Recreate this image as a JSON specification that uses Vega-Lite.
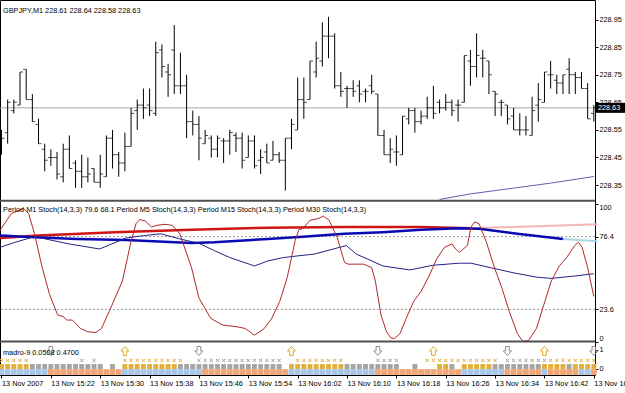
{
"$schema": "https://vega.github.io/schema/vega-lite/v6.json",
"width": 595, "height": 375,
"autosize": {"type": "none"},
"padding": {"left": 0, "top": 0, "right": 30, "bottom": 18},
"background": "white",
"config": {"view": {"stroke": "#000", "strokeWidth": 1}, "font": "Liberation Sans", "text": {"font": "Liberation Sans"}},
"datasets": {
"bars": [
{"i":0,"o":228.53,"h":228.55,"l":228.46,"c":228.52},{"i":1,"o":228.54,"h":228.66,"l":228.50,"c":228.65},{"i":2,"o":228.62,"h":228.66,"l":228.61,"c":228.65},{"i":3,"o":228.64,"h":228.76,"l":228.64,"c":228.76},{"i":4,"o":228.77,"h":228.77,"l":228.66,"c":228.66},{"i":5,"o":228.66,"h":228.68,"l":228.58,"c":228.58},{"i":6,"o":228.57,"h":228.59,"l":228.50,"c":228.50},{"i":7,"o":228.48,"h":228.50,"l":228.40,"c":228.44},{"i":8,"o":228.45,"h":228.48,"l":228.42,"c":228.45},{"i":9,"o":228.45,"h":228.47,"l":228.37,"c":228.39},
{"i":10,"o":228.38,"h":228.50,"l":228.36,"c":228.48},{"i":11,"o":228.48,"h":228.53,"l":228.41,"c":228.41},{"i":12,"o":228.43,"h":228.44,"l":228.34,"c":228.40},{"i":13,"o":228.40,"h":228.46,"l":228.34,"c":228.38},{"i":14,"o":228.38,"h":228.45,"l":228.36,"c":228.39},{"i":15,"o":228.41,"h":228.41,"l":228.36,"c":228.36},{"i":16,"o":228.36,"h":228.46,"l":228.34,"c":228.39},{"i":17,"o":228.38,"h":228.53,"l":228.38,"c":228.52},{"i":18,"o":228.52,"h":228.55,"l":228.41,"c":228.46},{"i":19,"o":228.46,"h":228.47,"l":228.38,"c":228.43},
{"i":20,"o":228.43,"h":228.54,"l":228.40,"c":228.49},{"i":21,"o":228.49,"h":228.63,"l":228.49,"c":228.61},{"i":22,"o":228.62,"h":228.66,"l":228.55,"c":228.64},{"i":23,"o":228.64,"h":228.70,"l":228.59,"c":228.63},{"i":24,"o":228.64,"h":228.70,"l":228.60,"c":228.62},{"i":25,"o":228.61,"h":228.87,"l":228.60,"c":228.83},{"i":26,"o":228.84,"h":228.86,"l":228.74,"c":228.78},{"i":27,"o":228.76,"h":228.79,"l":228.67,"c":228.75},{"i":28,"o":228.84,"h":228.93,"l":228.68,"c":228.71},{"i":29,"o":228.71,"h":228.83,"l":228.68,"c":228.71},
{"i":30,"o":228.71,"h":228.75,"l":228.52,"c":228.58},{"i":31,"o":228.58,"h":228.62,"l":228.53,"c":228.57},{"i":32,"o":228.57,"h":228.60,"l":228.44,"c":228.52},{"i":33,"o":228.50,"h":228.55,"l":228.50,"c":228.53},{"i":34,"o":228.52,"h":228.53,"l":228.45,"c":228.48},{"i":35,"o":228.48,"h":228.53,"l":228.45,"c":228.52},{"i":36,"o":228.51,"h":228.52,"l":228.43,"c":228.51},{"i":37,"o":228.51,"h":228.55,"l":228.46,"c":228.54},{"i":38,"o":228.53,"h":228.54,"l":228.47,"c":228.52},{"i":39,"o":228.52,"h":228.54,"l":228.41,"c":228.44},
{"i":40,"o":228.45,"h":228.53,"l":228.45,"c":228.51},{"i":41,"o":228.51,"h":228.53,"l":228.41,"c":228.42},{"i":42,"o":228.44,"h":228.48,"l":228.39,"c":228.45},{"i":43,"o":228.47,"h":228.50,"l":228.43,"c":228.43},{"i":44,"o":228.44,"h":228.51,"l":228.44,"c":228.46},{"i":45,"o":228.46,"h":228.47,"l":228.43,"c":228.44},{"i":46,"o":228.44,"h":228.52,"l":228.33,"c":228.52},{"i":47,"o":228.52,"h":228.59,"l":228.48,"c":228.57},{"i":48,"o":228.55,"h":228.74,"l":228.55,"c":228.66},{"i":49,"o":228.66,"h":228.74,"l":228.59,"c":228.65},
{"i":50,"o":228.66,"h":228.80,"l":228.66,"c":228.80},{"i":51,"o":228.76,"h":228.87,"l":228.74,"c":228.81},{"i":52,"o":228.80,"h":228.94,"l":228.78,"c":228.89},{"i":53,"o":228.89,"h":228.96,"l":228.81,"c":228.89},{"i":54,"o":228.89,"h":228.90,"l":228.70,"c":228.71},{"i":55,"o":228.71,"h":228.76,"l":228.67,"c":228.69},{"i":56,"o":228.70,"h":228.71,"l":228.63,"c":228.70},{"i":57,"o":228.70,"h":228.73,"l":228.67,"c":228.69},{"i":58,"o":228.71,"h":228.73,"l":228.65,"c":228.68},{"i":59,"o":228.69,"h":228.70,"l":228.65,"c":228.69},
{"i":60,"o":228.71,"h":228.75,"l":228.68,"c":228.69},{"i":61,"o":228.68,"h":228.68,"l":228.53,"c":228.53},{"i":62,"o":228.53,"h":228.55,"l":228.46,"c":228.46},{"i":63,"o":228.46,"h":228.52,"l":228.43,"c":228.48},{"i":64,"o":228.47,"h":228.53,"l":228.42,"c":228.47},{"i":65,"o":228.46,"h":228.60,"l":228.46,"c":228.60},{"i":66,"o":228.59,"h":228.63,"l":228.57,"c":228.62},{"i":67,"o":228.62,"h":228.63,"l":228.54,"c":228.58},{"i":68,"o":228.58,"h":228.62,"l":228.57,"c":228.60},{"i":69,"o":228.60,"h":228.67,"l":228.59,"c":228.63},
{"i":70,"o":228.63,"h":228.71,"l":228.59,"c":228.61},{"i":71,"o":228.65,"h":228.66,"l":228.61,"c":228.63},{"i":72,"o":228.63,"h":228.68,"l":228.62,"c":228.65},{"i":73,"o":228.65,"h":228.66,"l":228.60,"c":228.62},{"i":74,"o":228.64,"h":228.66,"l":228.58,"c":228.64},{"i":75,"o":228.65,"h":228.82,"l":228.65,"c":228.82},{"i":76,"o":228.80,"h":228.84,"l":228.71,"c":228.78},{"i":77,"o":228.78,"h":228.90,"l":228.74,"c":228.82},{"i":78,"o":228.81,"h":228.84,"l":228.74,"c":228.81},{"i":79,"o":228.80,"h":228.80,"l":228.68,"c":228.75},
{"i":80,"o":228.69,"h":228.69,"l":228.60,"c":228.68},{"i":81,"o":228.65,"h":228.66,"l":228.60,"c":228.65},{"i":82,"o":228.64,"h":228.64,"l":228.57,"c":228.59},{"i":83,"o":228.60,"h":228.63,"l":228.55,"c":228.55},{"i":84,"o":228.55,"h":228.61,"l":228.53,"c":228.55},{"i":85,"o":228.55,"h":228.60,"l":228.53,"c":228.55},{"i":86,"o":228.53,"h":228.67,"l":228.53,"c":228.62},{"i":87,"o":228.64,"h":228.72,"l":228.58,"c":228.66},{"i":88,"o":228.65,"h":228.76,"l":228.65,"c":228.76},{"i":89,"o":228.75,"h":228.80,"l":228.70,"c":228.75},
{"i":90,"o":228.73,"h":228.75,"l":228.68,"c":228.72},{"i":91,"o":228.72,"h":228.75,"l":228.68,"c":228.75},{"i":92,"o":228.77,"h":228.81,"l":228.68,"c":228.75},{"i":93,"o":228.75,"h":228.76,"l":228.68,"c":228.74},{"i":94,"o":228.74,"h":228.76,"l":228.70,"c":228.70},{"i":95,"o":228.70,"h":228.72,"l":228.59,"c":228.59},{"i":96,"o":228.61,"h":228.64,"l":228.58,"c":228.63}
],
"ma": [{"i":71,"p":228.298},{"i":76,"p":228.318},{"i":81,"p":228.333},{"i":89,"p":228.357},{"i":96,"p":228.381}],
"bid": [{"name":"Bid","price":228.63}],
"stoch": [
{"s":"m1","i":-0.24,"v":80.9},{"s":"m1","i":1.6,"v":93.1},{"s":"m1","i":3.6,"v":96.7},{"s":"m1","i":4.4,"v":93.1},{"s":"m1","i":5.35,"v":78.4},{"s":"m1","i":6.6,"v":53.9},{"s":"m1","i":7.8,"v":34.3},{"s":"m1","i":9.1,"v":19.6},{"s":"m1","i":10,"v":18.4},{"s":"m1","i":10.6,"v":15.9},{"s":"m1","i":11.5,"v":15.9},{"s":"m1","i":12.8,"v":9.8},{"s":"m1","i":14,"v":7.4},{"s":"m1","i":15.3,"v":6.9},{"s":"m1","i":16.2,"v":9.8},{"s":"m1","i":17.7,"v":24.6},{"s":"m1","i":19.6,"v":44.2},{"s":"m1","i":20.9,"v":71},{"s":"m1","i":21.8,"v":85.7},{"s":"m1","i":22.4,"v":88.7},{"s":"m1","i":23.3,"v":87.7},{"s":"m1","i":24.3,"v":83.3},{"s":"m1","i":25.2,"v":84.5},{"s":"m1","i":26.5,"v":85.3},{"s":"m1","i":27.7,"v":84.5},{"s":"m1","i":28.9,"v":78.4},{"s":"m1","i":30.8,"v":53.9},{"s":"m1","i":32,"v":31.9},{"s":"m1","i":33.9,"v":17.2},{"s":"m1","i":35.8,"v":12.3},{"s":"m1","i":38.2,"v":11},{"s":"m1","i":39.5,"v":9.8},{"s":"m1","i":41,"v":4.9},{"s":"m1","i":42.6,"v":9.8},{"s":"m1","i":43.8,"v":17.2},{"s":"m1","i":45.1,"v":29.4},{"s":"m1","i":46.3,"v":46.6},{"s":"m1","i":47.6,"v":73.5},{"s":"m1","i":48.2,"v":81.4},{"s":"m1","i":48.8,"v":82.1},{"s":"m1","i":50,"v":88.2},{"s":"m1","i":51.3,"v":89.4},{"s":"m1","i":52.2,"v":91.2},{"s":"m1","i":53.1,"v":88.2},{"s":"m1","i":54.4,"v":75.9},{"s":"m1","i":55.6,"v":57.6},{"s":"m1","i":56.2,"v":56.4},{"s":"m1","i":57.5,"v":56.4},{"s":"m1","i":58.7,"v":56.4},{"s":"m1","i":60,"v":53.9},{"s":"m1","i":60.6,"v":44.1},{"s":"m1","i":61.5,"v":19.6},{"s":"m1","i":62.4,"v":7.4},{"s":"m1","i":63.1,"v":3},{"s":"m1","i":63.7,"v":2.5},{"s":"m1","i":64.6,"v":6.2},{"s":"m1","i":65.6,"v":17.2},{"s":"m1","i":66.8,"v":29.4},{"s":"m1","i":68,"v":36.7},{"s":"m1","i":69.3,"v":47.8},{"s":"m1","i":70.5,"v":60},{"s":"m1","i":71.8,"v":68.6},{"s":"m1","i":73,"v":71.1},{"s":"m1","i":73.6,"v":67.4},{"s":"m1","i":74.2,"v":64.9},{"s":"m1","i":75.5,"v":69.9},{"s":"m1","i":76.1,"v":83.3},{"s":"m1","i":76.7,"v":87},{"s":"m1","i":77.4,"v":85.7},{"s":"m1","i":78.6,"v":72.3},{"s":"m1","i":79.8,"v":55.1},{"s":"m1","i":81.1,"v":39.2},{"s":"m1","i":82.3,"v":22.1},{"s":"m1","i":83.6,"v":6.2},{"s":"m1","i":84.5,"v":0.5},{"s":"m1","i":85.4,"v":1},{"s":"m1","i":86.7,"v":9.8},{"s":"m1","i":87.9,"v":27},{"s":"m1","i":89.1,"v":44.1},{"s":"m1","i":90.4,"v":55.1},{"s":"m1","i":91.6,"v":61.2},{"s":"m1","i":92.9,"v":69.9},{"s":"m1","i":93.5,"v":72.3},{"s":"m1","i":94.1,"v":68.6},{"s":"m1","i":95,"v":53.9},{"s":"m1","i":96,"v":33},
{"s":"m5","i":-0.24,"v":68.6},{"s":"m5","i":2.24,"v":72.3},{"s":"m5","i":5.35,"v":76.4},{"s":"m5","i":7.83,"v":74.0},{"s":"m5","i":10.9,"v":71.1},{"s":"m5","i":15.9,"v":67.4},{"s":"m5","i":20.2,"v":75.4},{"s":"m5","i":23.3,"v":77.2},{"s":"m5","i":25.8,"v":78.4},{"s":"m5","i":28.9,"v":74.7},{"s":"m5","i":32.0,"v":71.5},{"s":"m5","i":34.5,"v":66.2},{"s":"m5","i":37.0,"v":61.2},{"s":"m5","i":41.0,"v":55.1},{"s":"m5","i":43.2,"v":58.8},{"s":"m5","i":45.7,"v":61.2},{"s":"m5","i":48.2,"v":62.5},{"s":"m5","i":50.7,"v":63.7},{"s":"m5","i":53.8,"v":67.4},{"s":"m5","i":55.9,"v":69.9},{"s":"m5","i":57.5,"v":63.7},{"s":"m5","i":59.4,"v":60},{"s":"m5","i":61.8,"v":55.1},{"s":"m5","i":66.2,"v":52.2},{"s":"m5","i":69.9,"v":55.6},{"s":"m5","i":74.2,"v":57.1},{"s":"m5","i":76.1,"v":57.1},{"s":"m5","i":79.2,"v":53.9},{"s":"m5","i":82.9,"v":50.2},{"s":"m5","i":86.7,"v":47.0},{"s":"m5","i":89.1,"v":46.1},{"s":"m5","i":92.9,"v":47.8},{"s":"m5","i":96.0,"v":49.5},
{"s":"m15","i":-0.24,"v":77.2},{"s":"m15","i":5.35,"v":75.9},{"s":"m15","i":12.2,"v":74.7},{"s":"m15","i":20.2,"v":74.0},{"s":"m15","i":30.8,"v":71.8},{"s":"m15","i":34.5,"v":72.3},{"s":"m15","i":43.2,"v":74.7},{"s":"m15","i":49.4,"v":76.4},{"s":"m15","i":55.6,"v":78.4},{"s":"m15","i":61.8,"v":79.6},{"s":"m15","i":68.0,"v":81.4},{"s":"m15","i":74.2,"v":82.5},{"s":"m15","i":77.4,"v":82.1},{"s":"m15","i":83.6,"v":78.4},{"s":"m15","i":91.0,"v":74.7},
{"s":"m15x","i":91.0,"v":74.7},{"s":"m15x","i":96.6,"v":73.0},
{"s":"m30","i":-0.24,"v":75.4},{"s":"m30","i":6.0,"v":77.2},{"s":"m30","i":18.4,"v":79.6},{"s":"m30","i":30.8,"v":81.4},{"s":"m30","i":43.2,"v":82.8},{"s":"m30","i":55.6,"v":83.3},{"s":"m30","i":68.0,"v":83.3},{"s":"m30","i":76.1,"v":82.5},
{"s":"m30x","i":76.1,"v":82.5},{"s":"m30x","i":86.7,"v":83.8},{"s":"m30x","i":96.6,"v":85.3}
],
"levels": [{"level":76.4},{"level":23.6}],
"arrows": [{"i":8,"dir":"down"},{"i":20,"dir":"up"},{"i":32,"dir":"down"},{"i":47,"dir":"up"},{"i":61,"dir":"down"},{"i":70,"dir":"up"},{"i":82,"dir":"down"},{"i":88,"dir":"up"},{"i":96,"dir":"down"}],
"madro": [
{"i":0,"trend":"up","bar":"bull","sig":"bull"},{"i":1,"trend":"up","bar":"bull","sig":"bull"},{"i":2,"trend":"up","bar":"bull","sig":"bull"},{"i":3,"trend":"up","bar":"bull","sig":"bull"},{"i":4,"trend":"up","bar":"bull","sig":"bull"},{"i":5,"trend":"up","bar":"bear","sig":"none"},{"i":6,"trend":"up","bar":"bear","sig":"none"},{"i":7,"trend":"up","bar":"bear","sig":"none"},{"i":8,"trend":"down","bar":"bear","sig":"none"},{"i":9,"trend":"down","bar":"bear","sig":"none"},
{"i":10,"trend":"down","bar":"bear","sig":"none"},{"i":11,"trend":"down","bar":"bear","sig":"none"},{"i":12,"trend":"down","bar":"bear","sig":"none"},{"i":13,"trend":"down","bar":"bear","sig":"bear"},{"i":14,"trend":"down","bar":"bear","sig":"none"},{"i":15,"trend":"down","bar":"bear","sig":"bear"},{"i":16,"trend":"down","bar":"bear","sig":"none"},{"i":17,"trend":"down","bar":"none","sig":"none"},{"i":18,"trend":"down","bar":"bear","sig":"none"},{"i":19,"trend":"down","bar":"none","sig":"none"},
{"i":20,"trend":"up","bar":"bull","sig":"bull"},{"i":21,"trend":"up","bar":"bull","sig":"bull"},{"i":22,"trend":"up","bar":"bull","sig":"bull"},{"i":23,"trend":"up","bar":"bull","sig":"bull"},{"i":24,"trend":"up","bar":"bull","sig":"bull"},{"i":25,"trend":"up","bar":"bull","sig":"bull"},{"i":26,"trend":"up","bar":"bull","sig":"bull"},{"i":27,"trend":"up","bar":"bull","sig":"bull"},{"i":28,"trend":"up","bar":"bull","sig":"bull"},{"i":29,"trend":"up","bar":"bear","sig":"bull"},
{"i":30,"trend":"up","bar":"bear","sig":"none"},{"i":31,"trend":"up","bar":"bear","sig":"none"},{"i":32,"trend":"up","bar":"bear","sig":"bear"},{"i":33,"trend":"down","bar":"bear","sig":"bear"},{"i":34,"trend":"down","bar":"bear","sig":"bear"},{"i":35,"trend":"down","bar":"bear","sig":"bear"},{"i":36,"trend":"down","bar":"bear","sig":"bear"},{"i":37,"trend":"down","bar":"bear","sig":"bear"},{"i":38,"trend":"down","bar":"bear","sig":"bear"},{"i":39,"trend":"down","bar":"bear","sig":"bear"},
{"i":40,"trend":"down","bar":"bear","sig":"bear"},{"i":41,"trend":"down","bar":"bear","sig":"bear"},{"i":42,"trend":"down","bar":"bear","sig":"bear"},{"i":43,"trend":"down","bar":"bear","sig":"bear"},{"i":44,"trend":"down","bar":"bear","sig":"bear"},{"i":45,"trend":"down","bar":"bear","sig":"bear"},{"i":46,"trend":"down","bar":"none","sig":"none"},{"i":47,"trend":"up","bar":"bull","sig":"none"},{"i":48,"trend":"up","bar":"bull","sig":"bull"},{"i":49,"trend":"up","bar":"bull","sig":"bull"},
{"i":50,"trend":"up","bar":"bull","sig":"bull"},{"i":51,"trend":"up","bar":"bull","sig":"bull"},{"i":52,"trend":"up","bar":"bull","sig":"bull"},{"i":53,"trend":"up","bar":"bull","sig":"bull"},{"i":54,"trend":"up","bar":"bull","sig":"bull"},{"i":55,"trend":"up","bar":"bull","sig":"bull"},{"i":56,"trend":"up","bar":"bear","sig":"none"},{"i":57,"trend":"up","bar":"bear","sig":"none"},{"i":58,"trend":"up","bar":"bear","sig":"none"},{"i":59,"trend":"up","bar":"bear","sig":"none"},
{"i":60,"trend":"up","bar":"bear","sig":"none"},{"i":61,"trend":"down","bar":"bear","sig":"bear"},{"i":62,"trend":"down","bar":"bear","sig":"bear"},{"i":63,"trend":"down","bar":"bear","sig":"bear"},{"i":64,"trend":"down","bar":"bear","sig":"bear"},{"i":65,"trend":"down","bar":"none","sig":"none"},{"i":66,"trend":"down","bar":"none","sig":"none"},{"i":67,"trend":"down","bar":"bear","sig":"none"},{"i":68,"trend":"down","bar":"none","sig":"none"},{"i":69,"trend":"down","bar":"none","sig":"bull"},
{"i":70,"trend":"down","bar":"none","sig":"bull"},{"i":71,"trend":"down","bar":"bull","sig":"bull"},{"i":72,"trend":"down","bar":"bull","sig":"bull"},{"i":73,"trend":"down","bar":"bear","sig":"bull"},{"i":74,"trend":"down","bar":"none","sig":"bull"},{"i":75,"trend":"up","bar":"bull","sig":"bull"},{"i":76,"trend":"up","bar":"bull","sig":"bull"},{"i":77,"trend":"up","bar":"bull","sig":"bull"},{"i":78,"trend":"up","bar":"bull","sig":"bull"},{"i":79,"trend":"up","bar":"bull","sig":"bull"},
{"i":80,"trend":"up","bar":"bear","sig":"bull"},{"i":81,"trend":"up","bar":"bear","sig":"none"},{"i":82,"trend":"down","bar":"bear","sig":"bear"},{"i":83,"trend":"down","bar":"bear","sig":"bear"},{"i":84,"trend":"down","bar":"bear","sig":"bear"},{"i":85,"trend":"down","bar":"bear","sig":"bear"},{"i":86,"trend":"down","bar":"bear","sig":"bear"},{"i":87,"trend":"down","bar":"bear","sig":"bear"},{"i":88,"trend":"up","bar":"bull","sig":"bear"},{"i":89,"trend":"down","bar":"bull","sig":"bull"},
{"i":90,"trend":"down","bar":"bull","sig":"bull"},{"i":91,"trend":"down","bar":"bull","sig":"bull"},{"i":92,"trend":"down","bar":"bear","sig":"bull"},{"i":93,"trend":"down","bar":"bull","sig":"bull"},{"i":94,"trend":"up","bar":"bull","sig":"bull"},{"i":95,"trend":"up","bar":"bull","sig":"bull"},{"i":96,"trend":"down","bar":"bull","sig":"bull"}
]
},
"resolve": {"scale": {"y": "independent"}, "axis": {"y": "independent"}},
"layer": [
{
"layer": [
{"data": {"name": "bid"}, "mark": {"type": "rule", "color": "#a8a8a8", "strokeWidth": 1},
 "encoding": {"y": {"field": "price", "type": "quantitative", "scale": {"domain": [227.67941, 229.00294], "nice": false, "zero": false},
   "axis": {"orient": "right", "values": [228.35, 228.45, 228.55, 228.65, 228.75, 228.85, 228.95], "format": ".2f", "title": null, "domain": false, "grid": false, "tickSize": 3, "tickColor": "#000", "labelPadding": 1, "labelFontSize": 7.3, "labelColor": "#000", "labelFont": "Liberation Sans"}}}},
{"data": {"name": "bars"}, "mark": {"type": "rule", "color": "#000", "strokeWidth": 1},
 "encoding": {"x": {"field": "i", "type": "quantitative", "scale": {"domain": [-0.243, 96.191], "nice": false, "zero": false},
   "axis": {"orient": "bottom", "values": [0, 8, 16, 24, 32, 40, 48, 56, 64, 72, 80, 88, 96], "labelExpr": "datum.value == 0 ? '13 Nov 2007' : '13 Nov ' + floor((914 + datum.value) / 60) + ':' + ((914 + datum.value) % 60 < 10 ? '0' : '') + ((914 + datum.value) % 60)", "labelAlign": "left", "labelBaseline": "top", "tickSize": 3, "tickColor": "#000", "labelPadding": 1, "domain": false, "grid": false, "title": null, "labelFontSize": 7.3, "labelColor": "#000", "labelFont": "Liberation Sans", "labelOverlap": false, "labelBound": false, "labelFlush": false}},
  "y": {"field": "l", "type": "quantitative", "scale": {"domain": [227.67941, 229.00294], "nice": false, "zero": false}},
  "y2": {"field": "h"}}},
{"data": {"name": "bars"}, "mark": {"type": "tick", "orient": "horizontal", "size": 3, "thickness": 1, "color": "#000", "xOffset": -1.5},
 "encoding": {"x": {"field": "i", "type": "quantitative", "scale": {"domain": [-0.243, 96.191], "nice": false, "zero": false}},
  "y": {"field": "o", "type": "quantitative", "scale": {"domain": [227.67941, 229.00294], "nice": false, "zero": false}}}},
{"data": {"name": "bars"}, "mark": {"type": "tick", "orient": "horizontal", "size": 3, "thickness": 1, "color": "#000", "xOffset": 1.5},
 "encoding": {"x": {"field": "i", "type": "quantitative", "scale": {"domain": [-0.243, 96.191], "nice": false, "zero": false}},
  "y": {"field": "c", "type": "quantitative", "scale": {"domain": [227.67941, 229.00294], "nice": false, "zero": false}}}},
{"data": {"name": "ma"}, "mark": {"type": "line", "color": "#6a5aa8", "strokeWidth": 1},
 "encoding": {"x": {"field": "i", "type": "quantitative", "scale": {"domain": [-0.243, 96.191], "nice": false, "zero": false}},
  "y": {"field": "p", "type": "quantitative", "scale": {"domain": [227.67941, 229.00294], "nice": false, "zero": false}}}},
{"data": {"name": "bid"}, "mark": {"type": "rule", "color": "#505050", "strokeWidth": 2},
 "encoding": {"y": {"datum": 228.2935, "type": "quantitative", "scale": {"domain": [227.67941, 229.00294], "nice": false, "zero": false}}}},
{"data": {"name": "bid"}, "mark": {"type": "bar", "color": "#000", "size": 10, "clip": false},
 "encoding": {"x": {"datum": 96.3, "type": "quantitative", "scale": {"domain": [-0.243, 96.191], "nice": false, "zero": false}},
  "x2": {"datum": 101.3},
  "y": {"field": "price", "type": "quantitative", "scale": {"domain": [227.67941, 229.00294], "nice": false, "zero": false}}}},
{"data": {"name": "bid"}, "mark": {"type": "text", "color": "#fff", "align": "left", "baseline": "middle", "fontSize": 7.3, "clip": false, "dx": 1},
 "encoding": {"x": {"datum": 96.5, "type": "quantitative", "scale": {"domain": [-0.243, 96.191], "nice": false, "zero": false}},
  "y": {"field": "price", "type": "quantitative", "scale": {"domain": [227.67941, 229.00294], "nice": false, "zero": false}},
  "text": {"field": "price", "type": "quantitative", "format": ".2f"}}},
{"data": {"values": [{"t": "GBPJPY,M1  228.61 228.64 228.58 228.63"}]}, "mark": {"type": "text", "color": "#000", "align": "left", "baseline": "middle", "fontSize": 7.3},
 "encoding": {"x": {"datum": 0.25, "type": "quantitative", "scale": {"domain": [-0.243, 96.191], "nice": false, "zero": false}},
  "y": {"datum": 228.982, "type": "quantitative", "scale": {"domain": [227.67941, 229.00294], "nice": false, "zero": false}},
  "text": {"field": "t"}}}
]
},
{
"layer": [
{"data": {"name": "levels"}, "mark": {"type": "rule", "color": "#a0a0a0", "strokeWidth": 1, "strokeDash": [2, 2]},
 "encoding": {"y": {"field": "level", "type": "quantitative", "scale": {"domain": [-23.913, 247.826], "nice": false, "zero": false},
   "axis": {"orient": "right", "values": [0, 23.6, 76.4, 100], "labelExpr": "datum.value == 0 ? '0' : datum.value == 100 ? '100' : format(datum.value, '.1f')", "labelBaseline": {"condition": [{"test": "datum.value == 100", "value": "top"}, {"test": "datum.value == 0", "value": "bottom"}], "value": "middle"}, "title": null, "domain": false, "grid": false, "tickSize": 3, "tickColor": "#000", "labelPadding": 1, "labelFontSize": 7.3, "labelColor": "#000", "labelFont": "Liberation Sans"}}}},
{"data": {"name": "stoch"}, "transform": [{"filter": "datum.s == 'm30'"}], "mark": {"type": "line", "color": "#d01515", "strokeWidth": 2.5},
 "encoding": {"x": {"field": "i", "type": "quantitative", "scale": {"domain": [-0.243, 96.191], "nice": false, "zero": false}},
  "y": {"field": "v", "type": "quantitative", "scale": {"domain": [-23.913, 247.826], "nice": false, "zero": false}}}},
{"data": {"name": "stoch"}, "transform": [{"filter": "datum.s == 'm30x'"}], "mark": {"type": "line", "color": "#f2b6b6", "strokeWidth": 2},
 "encoding": {"x": {"field": "i", "type": "quantitative", "scale": {"domain": [-0.243, 96.191], "nice": false, "zero": false}},
  "y": {"field": "v", "type": "quantitative", "scale": {"domain": [-23.913, 247.826], "nice": false, "zero": false}}}},
{"data": {"name": "stoch"}, "transform": [{"filter": "datum.s == 'm15'"}], "mark": {"type": "line", "color": "#0a0ab4", "strokeWidth": 2.5},
 "encoding": {"x": {"field": "i", "type": "quantitative", "scale": {"domain": [-0.243, 96.191], "nice": false, "zero": false}},
  "y": {"field": "v", "type": "quantitative", "scale": {"domain": [-23.913, 247.826], "nice": false, "zero": false}}}},
{"data": {"name": "stoch"}, "transform": [{"filter": "datum.s == 'm15x'"}], "mark": {"type": "line", "color": "#a6d8e6", "strokeWidth": 2},
 "encoding": {"x": {"field": "i", "type": "quantitative", "scale": {"domain": [-0.243, 96.191], "nice": false, "zero": false}},
  "y": {"field": "v", "type": "quantitative", "scale": {"domain": [-23.913, 247.826], "nice": false, "zero": false}}}},
{"data": {"name": "stoch"}, "transform": [{"filter": "datum.s == 'm5'"}], "mark": {"type": "line", "color": "#22228a", "strokeWidth": 1},
 "encoding": {"x": {"field": "i", "type": "quantitative", "scale": {"domain": [-0.243, 96.191], "nice": false, "zero": false}},
  "y": {"field": "v", "type": "quantitative", "scale": {"domain": [-23.913, 247.826], "nice": false, "zero": false}}}},
{"data": {"name": "stoch"}, "transform": [{"filter": "datum.s == 'm1'"}], "mark": {"type": "line", "color": "#b02828", "strokeWidth": 1},
 "encoding": {"x": {"field": "i", "type": "quantitative", "scale": {"domain": [-0.243, 96.191], "nice": false, "zero": false}},
  "y": {"field": "v", "type": "quantitative", "scale": {"domain": [-23.913, 247.826], "nice": false, "zero": false}}}},
{"data": {"values": [{"t": "Period M1 Stoch(14,3,3) 79.6 68.1   Period M5 Stoch(14,3,3)   Period M15 Stoch(14,3,3)   Period M30 Stoch(14,3,3)"}]}, "mark": {"type": "text", "color": "#000", "align": "left", "baseline": "middle", "fontSize": 7.3},
 "encoding": {"x": {"datum": 0.25, "type": "quantitative", "scale": {"domain": [-0.243, 96.191], "nice": false, "zero": false}},
  "y": {"datum": 95.3, "type": "quantitative", "scale": {"domain": [-23.913, 247.826], "nice": false, "zero": false}},
  "text": {"field": "t"}}}
]
},
{
"resolve": {"scale": {"color": "independent", "shape": "independent"}},
"layer": [
{"data": {"name": "arrows"}, "mark": {"type": "point", "filled": false, "strokeWidth": 1, "size": 80, "opacity": 1},
 "encoding": {"x": {"field": "i", "type": "quantitative", "scale": {"domain": [-0.243, 96.191], "nice": false, "zero": false}},
  "y": {"datum": 0.95, "type": "quantitative", "scale": {"domain": [-0.3158, 19.421], "nice": false, "zero": false},
   "axis": {"orient": "right", "values": [0, 1], "format": "d", "title": null, "domain": false, "grid": false, "tickSize": 3, "tickColor": "#000", "labelPadding": 1, "labelFontSize": 7.3, "labelColor": "#000", "labelFont": "Liberation Sans"}},
  "shape": {"field": "dir", "type": "nominal", "scale": {"domain": ["up", "down"], "range": ["M0,-1L0.9,0L0.4,0L0.4,1L-0.4,1L-0.4,0L-0.9,0Z", "M0,1L0.9,0L0.4,0L0.4,-1L-0.4,-1L-0.4,0L-0.9,0Z"]}, "legend": null},
  "color": {"field": "dir", "type": "nominal", "scale": {"domain": ["up", "down"], "range": ["#e0a826", "#8c8c8c"]}, "legend": null}}},
{"data": {"name": "madro"}, "mark": {"type": "point", "shape": "square", "filled": true, "size": 34, "opacity": 1},
 "encoding": {"x": {"field": "i", "type": "quantitative", "scale": {"domain": [-0.243, 96.191], "nice": false, "zero": false}},
  "y": {"datum": -0.16, "type": "quantitative", "scale": {"domain": [-0.3158, 19.421], "nice": false, "zero": false}},
  "color": {"field": "trend", "type": "nominal", "scale": {"domain": ["up", "down"], "range": ["#aac6e6", "#f0a676"]}, "legend": null}}},
{"data": {"name": "madro"}, "transform": [{"filter": "datum.bar != 'none'"}], "mark": {"type": "point", "shape": "square", "filled": true, "size": 24, "opacity": 1},
 "encoding": {"x": {"field": "i", "type": "quantitative", "scale": {"domain": [-0.243, 96.191], "nice": false, "zero": false}},
  "y": {"datum": 0.13, "type": "quantitative", "scale": {"domain": [-0.3158, 19.421], "nice": false, "zero": false}},
  "color": {"field": "bar", "type": "nominal", "scale": {"domain": ["bull", "bear"], "range": ["#e2b03a", "#a4a4a4"]}, "legend": null}}},
{"data": {"name": "madro"}, "transform": [{"filter": "datum.sig != 'none'"}], "mark": {"type": "point", "shape": "M-1,-1L1,1M-1,1L1,-1", "filled": false, "strokeWidth": 1, "size": 10, "opacity": 1},
 "encoding": {"x": {"field": "i", "type": "quantitative", "scale": {"domain": [-0.243, 96.191], "nice": false, "zero": false}},
  "y": {"datum": 0.45, "type": "quantitative", "scale": {"domain": [-0.3158, 19.421], "nice": false, "zero": false}},
  "color": {"field": "sig", "type": "nominal", "scale": {"domain": ["bull", "bear"], "range": ["#d9a636", "#9a9a9a"]}, "legend": null}}},
{"data": {"name": "bid"}, "mark": {"type": "rule", "color": "#505050", "strokeWidth": 2},
 "encoding": {"y": {"datum": 1.45, "type": "quantitative", "scale": {"domain": [-0.3158, 19.421], "nice": false, "zero": false}}}},
{"data": {"values": [{"t": "madro-9 0.0508 0.4700"}]}, "mark": {"type": "text", "color": "#000", "align": "left", "baseline": "middle", "fontSize": 7.3},
 "encoding": {"x": {"datum": 0.25, "type": "quantitative", "scale": {"domain": [-0.243, 96.191], "nice": false, "zero": false}},
  "y": {"datum": 0.84, "type": "quantitative", "scale": {"domain": [-0.3158, 19.421], "nice": false, "zero": false}},
  "text": {"field": "t"}}}
]
}
]
}
